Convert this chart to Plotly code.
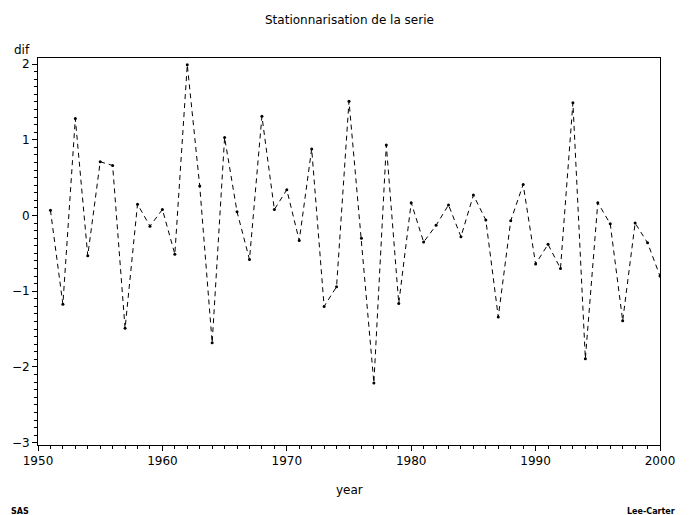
import plotly.graph_objects as go

years = list(range(1951, 2001))
dif = [0.07, -1.17, 1.28, -0.53, 0.71, 0.66, -1.49, 0.15, -0.14, 0.08,
       -0.51, 1.99, 0.39, -1.68, 1.03, 0.05, -0.58, 1.31, 0.08, 0.34,
       -0.33, 0.88, -1.20, -0.94, 1.51, -0.30, -2.21, 0.93, -1.16, 0.17,
       -0.35, -0.13, 0.14, -0.28, 0.27, -0.06, -1.34, -0.07, 0.41, -0.64,
       -0.38, -0.70, 1.49, -1.89, 0.17, -0.11, -1.39, -0.10, -0.36, -0.80]

x_ticks = [1950, 1960, 1970, 1980, 1990, 2000]
y_ticks = [-3, -2, -1, 0, 1, 2]

FONT = "DejaVu Sans"

fig = go.Figure()
fig.add_trace(go.Scatter(
    x=years, y=dif, mode="lines+markers",
    line=dict(color="black", width=1, dash="5px,4px"),
    marker=dict(color="black", size=3),
    showlegend=False,
))

axis_common = dict(
    showline=True, linecolor="black", linewidth=1, mirror=True,
    ticks="outside", ticklen=5, tickcolor="black", tickwidth=1,
    showgrid=False, zeroline=False,
    tickfont=dict(family=FONT, size=12, color="black"),
)

fig.update_xaxes(
    range=[1950, 2000], tickvals=x_ticks,
    minor=dict(dtick=1, ticks="outside", ticklen=3, tickcolor="black", showgrid=False),
    **axis_common,
)
fig.update_yaxes(
    range=[-3.03, 2.08], tickvals=y_ticks,
    ticktext=[str(v).replace("-", "\u2212") for v in y_ticks],
    minor=dict(dtick=0.1, ticks="outside", ticklen=3, tickcolor="black", showgrid=False),
    **axis_common,
)

ann = dict(xref="paper", yref="paper", showarrow=False, yanchor="middle")
fig.update_layout(
    width=691, height=515,
    margin=dict(l=36, r=31, t=58, b=70),
    paper_bgcolor="white", plot_bgcolor="white",
    font=dict(family=FONT, size=12, color="black"),
    annotations=[
        dict(text="Stationnarisation de la serie", x=0.5, y=1, xanchor="center",
             yshift=38, font=dict(size=12), **ann),
        dict(text="year", x=0.5, y=0, xanchor="center", yshift=-45,
             font=dict(size=12), **ann),
        dict(text="dif", x=0, y=1, xanchor="center", xshift=-16, yshift=8,
             font=dict(size=12), **ann),
        dict(text="<b>SAS</b>", x=0, y=0, xanchor="left",
             xshift=-29, yshift=-66, font=dict(size=8), **ann),
        dict(text="<b>Lee-Carter</b>", x=1, y=0, xanchor="right",
             xshift=17, yshift=-66, font=dict(size=8), **ann),
    ],
)

fig.write_html("out.html")
